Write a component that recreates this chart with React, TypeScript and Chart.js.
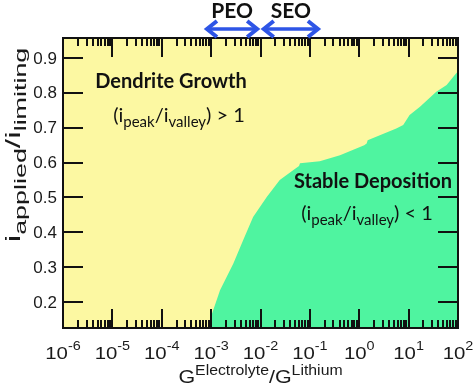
import React, { useEffect, useRef } from 'react';
import { Chart, registerables } from 'chart.js';

Chart.register(...registerables);

// ---- data ----
const boundaryLogX = [-3.04, -3.0, -2.82, -2.55, -2.35, -2.15, -1.87, -1.61, -1.34, -1.22, -1.2, -0.8, -0.39, 0.1, 0.15, 0.17, 0.75, 0.89, 1.02, 1.23, 1.56, 1.77, 1.93, 2.0];
const boundaryY = [0.126, 0.16, 0.234, 0.311, 0.378, 0.444, 0.502, 0.55, 0.578, 0.59, 0.598, 0.604, 0.621, 0.65, 0.655, 0.664, 0.698, 0.708, 0.736, 0.76, 0.803, 0.822, 0.85, 0.862];
const xTickExponents = [-6, -5, -4, -3, -2, -1, 0, 1, 2];
const yTickValues = [0.2, 0.3, 0.4, 0.5, 0.6, 0.7, 0.8, 0.9];
const xLimits = [1e-6, 1e2];
const yLimits = [0.126, 0.957];
const peoRange = [7.5e-4, 9.4e-3];
const seoRange = [1.06e-2, 1.6e-1];

const YELLOW = '#FCF8A2';
const GREEN = '#4FF4A0';
const BLUE = '#2E55E6';
const TEXT = '#1a1a1a';
const SANS = '"Liberation Sans", Arial, sans-serif';
const HUM = 'Lato, "Open Sans", sans-serif';

type Part = { t: string; font: string; dy?: number };

function richWidth(ctx: CanvasRenderingContext2D, parts: Part[]) {
  let w = 0;
  for (const p of parts) {
    ctx.font = p.font;
    w += ctx.measureText(p.t).width;
  }
  return w;
}

// draws rich text; sx stretches the text horizontally around the anchor
function drawRich(ctx: CanvasRenderingContext2D, parts: Part[], x: number, y: number, align: 'left' | 'center' | 'right', sx = 1) {
  const w = richWidth(ctx, parts);
  ctx.save();
  ctx.translate(x, y);
  ctx.scale(sx, 1);
  let cx = align === 'left' ? 0 : align === 'center' ? -w / 2 : -w;
  ctx.textAlign = 'left';
  ctx.textBaseline = 'alphabetic';
  for (const p of parts) {
    ctx.font = p.font;
    ctx.fillText(p.t, cx, p.dy || 0);
    cx += ctx.measureText(p.t).width;
  }
  ctx.restore();
}

function drawArrow(ctx: CanvasRenderingContext2D, x1: number, x2: number, y: number) {
  ctx.save();
  ctx.strokeStyle = BLUE;
  ctx.lineWidth = 3.5;
  ctx.lineCap = 'butt';
  ctx.lineJoin = 'miter';
  ctx.beginPath();
  ctx.moveTo(x1 + 2, y);
  ctx.lineTo(x2 - 2, y);
  ctx.stroke();
  ctx.lineWidth = 4;
  const hl = 12, hh = 8;
  ctx.beginPath();
  ctx.moveTo(x1 + hl, y - hh);
  ctx.lineTo(x1 + 2, y);
  ctx.lineTo(x1 + hl, y + hh);
  ctx.stroke();
  ctx.beginPath();
  ctx.moveTo(x2 - hl, y - hh);
  ctx.lineTo(x2 - 2, y);
  ctx.lineTo(x2 - hl, y + hh);
  ctx.stroke();
  ctx.restore();
}

const decorPlugin = {
  id: 'decor',
  beforeDatasetsDraw(chart: any) {
    const { ctx, chartArea: a } = chart;
    ctx.save();
    ctx.fillStyle = YELLOW;
    ctx.fillRect(a.left, a.top, a.right - a.left, a.bottom - a.top);
    ctx.restore();
  },
  afterDatasetsDraw(chart: any) {
    const { ctx, chartArea: a } = chart;
    const xs = chart.scales.x;
    const ys = chart.scales.y;
    ctx.save();
    ctx.strokeStyle = '#111';
    ctx.lineWidth = 2;
    // x ticks (major and minor), bottom and top
    ctx.beginPath();
    for (let i = 0; i < xTickExponents.length; i++) {
      const e = xTickExponents[i];
      const px = Math.round(xs.getPixelForValue(Math.pow(10, e)));
      ctx.moveTo(px, a.bottom);
      ctx.lineTo(px, a.bottom - 19);
      ctx.moveTo(px, a.top);
      ctx.lineTo(px, a.top + 19);
      if (i < xTickExponents.length - 1) {
        for (let m = 2; m <= 9; m++) {
          const mx = Math.round(xs.getPixelForValue(m * Math.pow(10, e)));
          ctx.moveTo(mx, a.bottom);
          ctx.lineTo(mx, a.bottom - 8);
          ctx.moveTo(mx, a.top);
          ctx.lineTo(mx, a.top + 8);
        }
      }
    }
    // y ticks left & right
    for (const v of yTickValues) {
      const py = Math.round(ys.getPixelForValue(v));
      ctx.moveTo(a.left, py);
      ctx.lineTo(a.left + 20, py);
      ctx.moveTo(a.right, py);
      ctx.lineTo(a.right - 20, py);
    }
    ctx.stroke();
    // frame
    ctx.lineWidth = 2;
    ctx.strokeRect(a.left, a.top, a.right - a.left, a.bottom - a.top);

    // tick labels
    ctx.fillStyle = TEXT;
    for (const e of xTickExponents) {
      const px = xs.getPixelForValue(Math.pow(10, e));
      drawRich(ctx, [
        { t: '10', font: `17px ${SANS}` },
        { t: e < 0 ? '-' + Math.abs(e) : String(e), font: `12px ${SANS}`, dy: -9 },
      ], px, a.bottom + 31, 'center', 1.2);
    }
    ctx.font = `17px ${SANS}`;
    ctx.textAlign = 'right';
    ctx.textBaseline = 'middle';
    for (const v of yTickValues) {
      ctx.fillText(v.toFixed(1), a.left - 6, ys.getPixelForValue(v) + 1);
    }

    // x title
    drawRich(ctx, [
      { t: 'G', font: `19px ${SANS}` },
      { t: 'Electrolyte', font: `14px ${SANS}`, dy: -8 },
      { t: '/G', font: `19px ${SANS}` },
      { t: 'Lithium', font: `14px ${SANS}`, dy: -8 },
    ], (a.left + a.right) / 2, 383, 'center', 1.13);

    // y title (rotated, stretched along its length)
    ctx.save();
    ctx.translate(20, 145);
    ctx.rotate(-Math.PI / 2);
    drawRich(ctx, [
      { t: 'i', font: `20px ${SANS}` },
      { t: 'applied', font: `16px ${SANS}`, dy: 6 },
      { t: '/i', font: `20px ${SANS}` },
      { t: 'limiting', font: `16px ${SANS}`, dy: 6 },
    ], 0, 0, 'center', 1.68);
    ctx.restore();

    // region labels
    ctx.fillStyle = '#111';
    drawRich(ctx, [{ t: 'Dendrite Growth', font: `bold 20px ${HUM}` }], 171, 88, 'center');
    drawRich(ctx, [
      { t: '(i', font: `20px ${HUM}` },
      { t: 'peak', font: `15px ${HUM}`, dy: 5 },
      { t: '/i', font: `20px ${HUM}` },
      { t: 'valley', font: `15px ${HUM}`, dy: 5 },
      { t: ') > 1', font: `20px ${HUM}` },
    ], 179, 122, 'center');
    drawRich(ctx, [{ t: 'Stable Deposition', font: `bold 20px ${HUM}` }], 373, 188, 'center');
    drawRich(ctx, [
      { t: '(i', font: `20px ${HUM}` },
      { t: 'peak', font: `15px ${HUM}`, dy: 5 },
      { t: '/i', font: `20px ${HUM}` },
      { t: 'valley', font: `15px ${HUM}`, dy: 5 },
      { t: ') < 1', font: `20px ${HUM}` },
    ], 367, 220, 'center');

    // PEO / SEO annotations above plot
    const py = 29;
    const p1 = xs.getPixelForValue(peoRange[0]);
    const p2 = xs.getPixelForValue(peoRange[1]);
    const s1 = xs.getPixelForValue(seoRange[0]);
    const s2 = xs.getPixelForValue(seoRange[1]);
    drawArrow(ctx, p1, p2, py);
    drawArrow(ctx, s1, s2, py);
    ctx.fillStyle = '#111';
    drawRich(ctx, [{ t: 'PEO', font: `bold 21px ${HUM}` }], (p1 + p2) / 2, 18, 'center');
    drawRich(ctx, [{ t: 'SEO', font: `bold 21px ${HUM}` }], (s1 + s2) / 2, 18, 'center');
    ctx.restore();
  },
};

export default function App() {
  const ref = useRef<HTMLCanvasElement | null>(null);
  useEffect(() => {
    if (!ref.current) return;
    const data = boundaryLogX.map((lx, i) => ({ x: Math.pow(10, lx), y: boundaryY[i] }));
    const chart = new Chart(ref.current, {
      type: 'line',
      data: {
        datasets: [
          {
            data,
            borderWidth: 0,
            borderColor: GREEN,
            backgroundColor: GREEN,
            fill: 'start',
            pointRadius: 0,
            tension: 0,
          },
        ],
      },
      options: {
        responsive: false,
        animation: false,
        layout: { padding: { left: 63, right: 16, top: 38, bottom: 61 } },
        plugins: { legend: { display: false }, tooltip: { enabled: false } },
        scales: {
          x: { type: 'logarithmic', min: xLimits[0], max: xLimits[1], display: false },
          y: { type: 'linear', min: yLimits[0], max: yLimits[1], display: false },
        },
      },
      plugins: [decorPlugin],
    });
    return () => chart.destroy();
  }, []);
  return (
    <div style={{ position: 'fixed', left: 0, top: 0, width: 474, height: 389, background: '#fff' }}>
      <canvas ref={ref} width={474} height={389} style={{ display: 'block' }} />
    </div>
  );
}
